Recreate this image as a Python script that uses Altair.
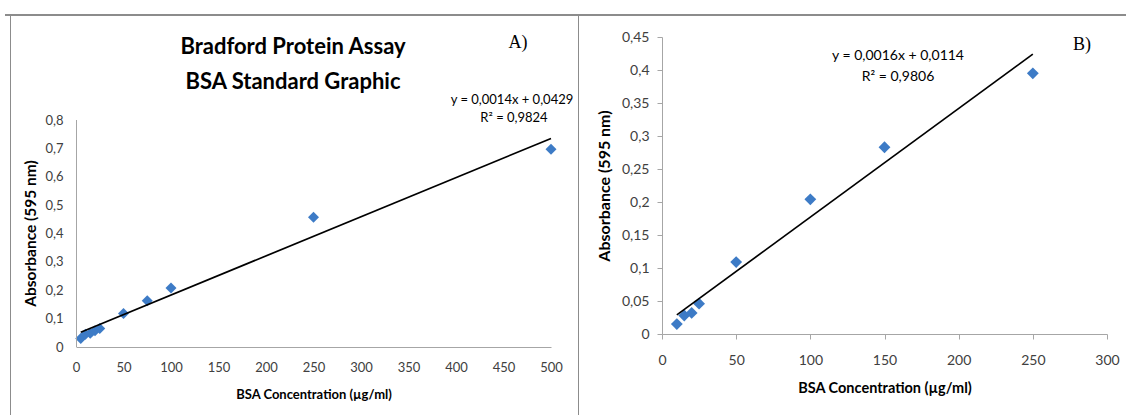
import altair as alt
import pandas as pd

# ---------------- data ----------------
# Panel A
a_conc = [5, 10, 15, 20, 25, 50, 75, 100, 250, 500]
a_abs = [0.030, 0.045, 0.048, 0.057, 0.065, 0.118, 0.163, 0.208, 0.457, 0.697]
a_fit_x = [5, 500]
a_fit_y = [0.052, 0.735]
a_xticks = [0, 50, 100, 150, 200, 250, 300, 350, 400, 450, 500]
a_yticks = [0, 0.1, 0.2, 0.3, 0.4, 0.5, 0.6, 0.7, 0.8]
a_title = ["Bradford Protein Assay", "BSA Standard Graphic"]
a_eq = ["y = 0,0014x + 0,0429", "R² = 0,9824"]

# Panel B
b_conc = [10, 15, 20, 25, 50, 100, 150, 250]
b_abs = [0.015, 0.028, 0.032, 0.046, 0.109, 0.204, 0.283, 0.395]
b_fit_x = [10, 250]
b_fit_y = [0.029, 0.424]
b_xticks = [0, 50, 100, 150, 200, 250, 300]
b_yticks = [0, 0.05, 0.1, 0.15, 0.2, 0.25, 0.3, 0.35, 0.4, 0.45]
b_eq = ["y = 0,0016x + 0,0114", "R² = 0,9806"]

x_title = "BSA Concentration (µg/ml)"

# ---------------- style ----------------
FONT = "Lato"
SERIF = "Liberation Serif"
BLUE = "#3d7bc6"
AXC = "#a6a6a6"
LBL = "#404040"
FRAME = "#8c8c8c"
comma = "replace(format(datum.value, '~g'), '.', ',')"

A_W, A_H = 475, 310
A_PLOT_H = 227            # pixel height of the 0..0.8 range in panel A
A_YMAX = a_yticks[-1] * A_H / A_PLOT_H
B_W, B_H = 445, 297


def axis_style(label_size, title_size):
    return dict(labelFont=FONT, labelFontSize=label_size, labelColor=LBL,
                titleFont=FONT, titleFontSize=title_size, titleFontWeight="bold",
                titleColor="black", domainColor=AXC, tickColor=AXC, grid=False,
                labelFlush=False, labelOverlap=False)


def text_layer(s, x, y, font=FONT, size=13, weight="normal", align="center"):
    return alt.Chart(pd.DataFrame({"t": [s]})).mark_text(
        font=font, fontSize=size, fontWeight=weight, color="black",
        align=align, baseline="middle").encode(text="t:N", x=alt.value(x), y=alt.value(y))


def rule_layer(x, y, x2=None, y2=None, color=FRAME, width=1):
    enc = dict(x=alt.value(x), y=alt.value(y))
    if x2 is not None:
        enc["x2"] = alt.value(x2)
    if y2 is not None:
        enc["y2"] = alt.value(y2)
    return alt.Chart(pd.DataFrame({"k": [0]})).mark_rule(color=color, strokeWidth=width).encode(**enc)


# ---------------- panel A ----------------
dfA = pd.DataFrame({"x": a_conc, "y": a_abs})
fitA = pd.DataFrame({"x": a_fit_x, "y": a_fit_y})

xA = alt.X("x:Q", scale=alt.Scale(domain=[a_xticks[0], a_xticks[-1]], nice=False, zero=False),
           axis=alt.Axis(values=a_xticks, title=x_title, ticks=False, tickSize=0,
                         labelPadding=14, titleY=47, titleBaseline="middle", **axis_style(13, 13)))
yA = alt.Y("y:Q", scale=alt.Scale(domain=[0, A_YMAX], nice=False),
           axis=alt.Axis(values=a_yticks, labelExpr=comma, domain=False, ticks=False, tickSize=0,
                         labelPadding=13, title="Absorbance  (595 nm)", titleX=-38, titleY=196,
                         **axis_style(13, 15.5)))

ptsA = alt.Chart(dfA).mark_point(shape="diamond", filled=True, size=120, color=BLUE, opacity=1).encode(x=xA, y=yA)
lineA = alt.Chart(fitA).mark_line(color="black", strokeWidth=1.7).encode(x=xA, y=yA)

layersA = [
    ptsA, lineA,
    rule_layer(0.5, A_H - A_PLOT_H, y2=A_H, color=AXC),      # y axis line (0 .. 0,8)
    text_layer(a_title[0], 217, 10, size=22, weight="bold"),
    text_layer(a_title[1], 217, 45, size=22, weight="bold"),
    text_layer("A)", 442, 6, font=SERIF, size=18),
    text_layer(a_eq[0], 436, 63, size=13),
    text_layer(a_eq[1], 438, 81, size=13),
    rule_layer(-71, -22, x2=1050, width=2),
    rule_layer(-65.5, -22, y2=378),
    rule_layer(502.5, -22, y2=378),
]
panelA = alt.layer(*layersA).properties(width=A_W, height=A_H)

# ---------------- panel B ----------------
dfB = pd.DataFrame({"x": b_conc, "y": b_abs})
fitB = pd.DataFrame({"x": b_fit_x, "y": b_fit_y})

xB = alt.X("x:Q", scale=alt.Scale(domain=[b_xticks[0], b_xticks[-1]], nice=False),
           axis=alt.Axis(values=b_xticks, title=x_title, tickSize=5, labelPadding=14,
                         titleY=54, titleBaseline="middle", **axis_style(14, 14.5)))
yB = alt.Y("y:Q", scale=alt.Scale(domain=[b_yticks[0], b_yticks[-1]], nice=False),
           axis=alt.Axis(values=b_yticks, labelExpr=comma, tickSize=5, labelPadding=8,
                         title="Absorbance (595 nm)", titleX=-50, **axis_style(14, 16)))

ptsB = alt.Chart(dfB).mark_point(shape="diamond", filled=True, size=140, color=BLUE, opacity=1).encode(x=xB, y=yB)
lineB = alt.Chart(fitB).mark_line(color="black", strokeWidth=1.7).encode(x=xB, y=yB)

layersB = [
    ptsB, lineB,
    text_layer("B)", 420, 8, font=SERIF, size=18),
    text_layer(b_eq[0], 236, 19, size=14),
    text_layer(b_eq[1], 236, 40, size=14),
]
panelB = alt.layer(*layersB).properties(width=B_W, height=B_H)

chart = alt.hconcat(panelA, panelB, spacing=111, bounds="flush").resolve_scale(
    x="independent", y="independent").properties(
    autosize=alt.AutoSizeParams(type="none"),
    padding={"left": 76, "top": 37, "right": 1050, "bottom": 378},
    background="white",
).configure_view(stroke=None)

chart.save("out.html", embed_options={"renderer": "svg", "actions": False})
